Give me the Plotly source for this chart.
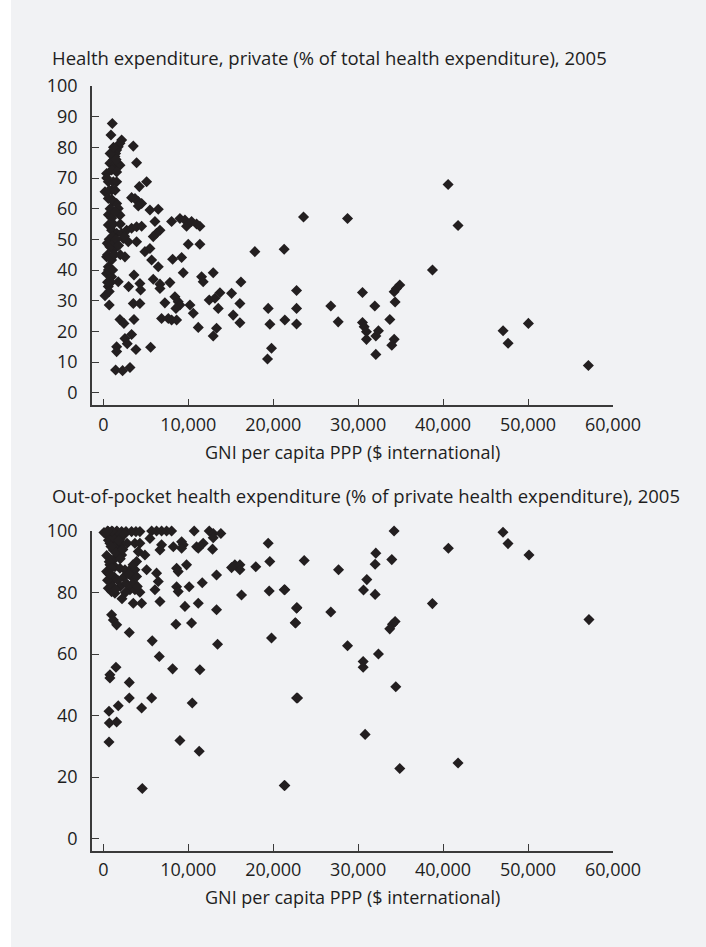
import plotly.graph_objects as go

# ---------------- data: top panel (private % of total health expenditure)
gni_private = [
    1060, 2160, 1960, 1760, 1570, 1450, 1370, 1180, 780, 1370, 1960, 390, 980, 1570,
    590, 1180, 1570, 200, 980, 590, 1180, 1570, 1760, 1960,
    3530, 3920, 4240, 5100, 3330, 3730, 4120, 4510, 4120, 5490, 6470, 6080, 6670, 6270, 5880,
    590, 980, 1570, 2160, 2750, 3330, 3920, 4510, 2350, 2940, 3920, 470, 780, 1180,
    390, 980, 2550, 590, 390, 980, 1760, 590, 200, 700, 2980, 3610, 4310, 4390, 3530, 4310,
    4900, 5490, 5690, 6470, 5880, 6670, 6670, 7250, 7840, 6860, 7650, 8040, 8630,
    8040, 9020, 9610, 9800, 10390, 10980, 11370, 10000, 11370,
    8160, 9220, 9410, 8430, 8820, 9020, 8550, 10200, 10590, 11180, 11570, 11760,
    12940, 12470, 13140, 13730, 13530, 13330, 12940, 15100, 15290, 16080, 16080, 16200,
    1960, 2430, 3610, 1570, 1570, 2550, 3330, 2820, 3840, 1450, 2270, 3140, 5570,
    17840, 21290, 19410, 19610, 19800, 19330, 21370, 22750, 22750, 22750,
    23570, 28750, 40590, 41760, 38750, 26780, 27650, 30510, 31960, 30510, 30710, 30980,
    30980, 32080, 32390, 32080, 33730, 34350, 34240, 34510, 34900, 34240, 33960,
    47060, 47650, 50040, 57100,
    600, 800, 1000, 1200, 1400, 700, 900, 1100, 500, 800, 1300, 600, 900, 1100, 1300,
    500, 700, 1500, 1800, 2000, 1000, 700, 1400, 400, 800, 1200, 900, 1500, 2500, 2000,
]
private_pct = [
    87.8, 82.4, 81.3, 80.2, 79.1, 78.0, 77.0, 75.9, 74.8, 74.2, 74.2, 71.5, 72.6, 72.0,
    68.8, 68.8, 68.8, 65.5, 66.0, 63.3, 62.3, 61.7, 60.1, 57.9,
    80.4, 75.0, 67.2, 68.8, 63.6, 63.3, 62.3, 61.7, 60.9, 59.6, 59.8, 55.8, 53.0, 52.0, 50.9,
    54.7, 53.0, 52.0, 52.0, 53.0, 53.6, 54.1, 54.3, 50.3, 49.2, 49.2, 48.7, 47.6, 46.5,
    44.3, 43.3, 44.3, 41.1, 38.9, 37.8, 36.2, 34.6, 31.6, 28.6, 34.6, 38.4, 35.6, 33.5, 29.1, 29.1,
    46.0, 47.0, 43.3, 41.1, 37.0, 35.4, 34.0, 29.3, 35.9, 24.2, 24.2, 23.7, 23.7,
    55.8, 56.8, 56.3, 54.3, 55.8, 55.0, 54.3, 48.4, 48.4,
    43.5, 44.1, 39.1, 31.3, 29.7, 28.6, 27.5, 28.6, 25.9, 21.3, 37.8, 36.2,
    39.1, 30.2, 30.8, 32.6, 27.5, 21.0, 18.5, 32.4, 25.3, 29.1, 22.8, 36.1,
    23.9, 22.6, 23.9, 15.0, 13.4, 17.7, 19.0, 16.0, 14.1, 7.4, 7.2, 8.2, 14.8,
    46.0, 46.8, 27.5, 22.3, 14.5, 11.0, 23.7, 33.3, 27.5, 22.4,
    57.3, 56.8, 67.9, 54.5, 40.0, 28.3, 23.1, 32.7, 28.3, 22.9, 21.5, 19.9,
    17.4, 18.5, 20.2, 12.5, 23.9, 29.6, 32.9, 34.0, 35.1, 17.4, 15.5,
    20.2, 16.1, 22.6, 8.9,
    58, 60, 57, 55, 59, 50, 48, 51, 45, 44, 49, 40, 36, 40, 45,
    36, 33, 50, 48, 55, 63, 66, 66, 70, 78, 80, 84, 76, 51, 45,
]

# ---------------- data: bottom panel (out-of-pocket % of private expenditure)
gni_oop = [
    80, 590, 1100, 1570, 2160, 2670, 3330, 3840, 4310, 5690, 6270, 6860, 7450, 8040, 10700, 12470,
    12940, 13840, 12940,
    780, 1370, 1960, 780, 1570, 2160, 1180, 1960, 1370, 2160, 980, 390, 590, 780, 1370, 1960,
    2550, 3330, 980, 590, 980, 1370, 3720, 4310, 4120, 4900, 3920, 3720, 3330, 3920, 5100,
    3530, 3140, 3720, 4310, 3530, 4510, 5490, 6860, 6670, 6270, 6470, 6080, 6670, 8240,
    9220, 9410, 9220, 8630, 8820, 8630, 8820, 9800, 10110, 9610, 8550, 10390, 11180, 10980,
    11180, 11760, 12860, 11650, 13330, 13330, 13450,
    15100, 15490, 16080, 16080, 16270, 17950, 19410, 19600, 19530, 19800, 21370, 22750,
    22640, 22750, 21370,
    980, 1180, 1570, 3060, 5760, 6590, 8160, 11370, 1490, 780, 780, 3060, 3060, 5690, 1760,
    4510, 10470, 670, 710, 1570, 670, 9020, 11290, 4590,
    34230, 47050, 47640, 50110, 40620, 23650, 27690, 32080, 32000, 33960, 31020, 30630,
    32000, 21300, 22790, 22590, 26780, 38740, 57170, 34040, 33720, 34350, 28750, 32390,
    30590, 30590, 34430, 22870, 30820, 41760, 34900, 21300,
    300, 600, 900, 1200, 1500, 1800, 2300, 2800, 400, 700, 1000, 1300, 1700, 2000, 2400,
    2700, 500, 800, 1100, 1400, 2200, 2600, 3000, 3500, 4000, 2000, 1600, 1000, 500, 2500,
]
oop_pct = [
    99.5, 99.8, 99.8, 99.8, 99.8, 99.8, 99.8, 99.8, 99.8, 100, 100, 100, 100, 100, 100, 100,
    99.2, 99.2, 97.8,
    98.2, 97.6, 97.4, 96.0, 95.5, 96.0, 93.8, 93.5, 91.1, 92.2, 90.6, 86.8, 86.3, 89.0, 88.4, 87.9,
    87.4, 87.9, 83.6, 81.4, 80.3, 79.8, 96.0, 96.0, 93.3, 92.2, 90.1, 87.4, 85.2, 85.2, 87.4,
    83.0, 80.9, 80.9, 80.1, 76.5, 76.5, 97.6, 95.5, 93.8, 86.3, 83.6, 80.9, 77.1, 94.9,
    96.5, 95.5, 94.4, 87.9, 86.8, 81.9, 80.3, 89.0, 81.9, 75.5, 69.7, 70.1, 76.5, 94.9,
    94.4, 96.0, 94.1, 83.2, 85.7, 74.4, 63.2,
    88.1, 89.0, 89.0, 87.4, 79.2, 88.4, 96.0, 90.1, 80.5, 65.2, 80.9, 74.9,
    70.1, 45.7, 17.3,
    72.8, 71.1, 69.5, 67.0, 64.3, 59.2, 55.2, 54.9, 55.7, 53.3, 52.2, 50.8, 45.7, 45.7, 43.2,
    42.5, 44.1, 41.4, 37.6, 37.9, 31.4, 31.9, 28.4, 16.3,
    100, 99.6, 95.9, 92.2, 94.4, 90.4, 87.4, 92.8, 89.2, 90.7, 84.2, 80.8,
    79.4, 80.9, 75.1, 70.2, 73.7, 76.4, 71.2, 69.7, 68.2, 70.6, 62.7, 60.0,
    57.6, 55.7, 49.4, 45.7, 33.9, 24.6, 22.8, 17.3,
    99, 97, 95, 98, 93, 97, 94, 96, 92, 90, 88, 85, 84, 82, 85,
    83, 84, 86, 82, 81, 78, 80, 86, 89, 82, 91, 100, 100, 100, 99,
]

x_ticks = [0, 10000, 20000, 30000, 40000, 50000, 60000]
y_ticks_top = [0, 10, 20, 30, 40, 50, 60, 70, 80, 90, 100]
y_ticks_bottom = [0, 20, 40, 60, 80, 100]

title_top = "Health expenditure, private (% of total health expenditure), 2005"
title_bottom = "Out-of-pocket health expenditure (% of private health expenditure), 2005"
x_title = "GNI per capita PPP ($ international)"

# ---------------- figure
W, H = 706, 947
ML, MR, MT, MB = 92, 93, 86, 96
PW = W - ML - MR
PH = H - MT - MB

def px_x(px):
    return (px - ML) / PW

def px_y(py):
    return (H - MB - py) / PH

FONT = "Open Sans, DejaVu Sans, sans-serif"
INK = "#231f20"
AX = "#3a3a3a"
BG = "#f1f2f4"
TXT = "#1e1e1e"

marker = dict(symbol="diamond", size=8.5, color=INK, line=dict(width=0))

fig = go.Figure()
fig.add_trace(go.Scatter(x=gni_private, y=private_pct, mode="markers", marker=marker,
                         xaxis="x", yaxis="y", showlegend=False, cliponaxis=False))
fig.add_trace(go.Scatter(x=gni_oop, y=oop_pct, mode="markers", marker=marker,
                         xaxis="x2", yaxis="y2", showlegend=False, cliponaxis=False))

tfont = dict(family=FONT, size=18, color=TXT)
xcommon = dict(range=[-1330, 60000], tickvals=x_ticks, tickformat=",d",
               showline=True, linecolor=AX, linewidth=1.5, ticks="inside",
               ticklen=7, tickwidth=1.3, tickcolor=AX, showgrid=False, zeroline=False,
               tickfont=tfont, ticklabelstandoff=2, fixedrange=True)
ycommon = dict(showline=True, linecolor=AX, linewidth=1.5, ticks="inside",
               ticklen=7, tickwidth=1.3, tickcolor=AX, showgrid=False, zeroline=False,
               tickfont=tfont, ticklabelstandoff=9, fixedrange=True)

fig.update_layout(
    width=W, height=H,
    margin=dict(l=ML, r=MR, t=MT, b=MB),
    paper_bgcolor=BG, plot_bgcolor=BG,
    xaxis=dict(domain=[0, 1], anchor="y", **xcommon),
    yaxis=dict(domain=[px_y(405.3), 1.0], anchor="x", range=[-4.1, 100],
               tickvals=y_ticks_top, **ycommon),
    xaxis2=dict(domain=[0, 1], anchor="y2", **xcommon),
    yaxis2=dict(domain=[0, px_y(531)], anchor="x2", range=[-4.0, 100],
                tickvals=y_ticks_bottom, **ycommon),
    font=dict(family=FONT, size=18, color=TXT),
)

title_font = dict(family=FONT, size=18.5, color=TXT)
ann_font = dict(family=FONT, size=18, color=TXT)
fig.add_annotation(text=title_top, xref="paper", yref="paper", x=px_x(50), y=px_y(58),
                   xanchor="left", yanchor="middle", showarrow=False, font=title_font)
fig.add_annotation(text=title_bottom, xref="paper", yref="paper", x=px_x(50), y=px_y(495),
                   xanchor="left", yanchor="middle", showarrow=False, font=title_font)
fig.add_annotation(text=x_title, xref="paper", yref="paper", x=0.5, y=px_y(451.7),
                   xanchor="center", yanchor="middle", showarrow=False, font=ann_font)
fig.add_annotation(text=x_title, xref="paper", yref="paper", x=0.5, y=px_y(896.7),
                   xanchor="center", yanchor="middle", showarrow=False, font=ann_font)

# white strip on the left edge
fig.add_shape(type="rect", xref="paper", yref="paper", x0=px_x(-2), x1=px_x(11),
              y0=px_y(H + 5), y1=px_y(-5), fillcolor="white", line=dict(width=0),
              layer="below")

fig.write_html(
    "out.html",
    post_script="document.documentElement.style.overflow='hidden';"
                "document.body.style.margin='0';document.body.style.overflow='hidden';",
)
